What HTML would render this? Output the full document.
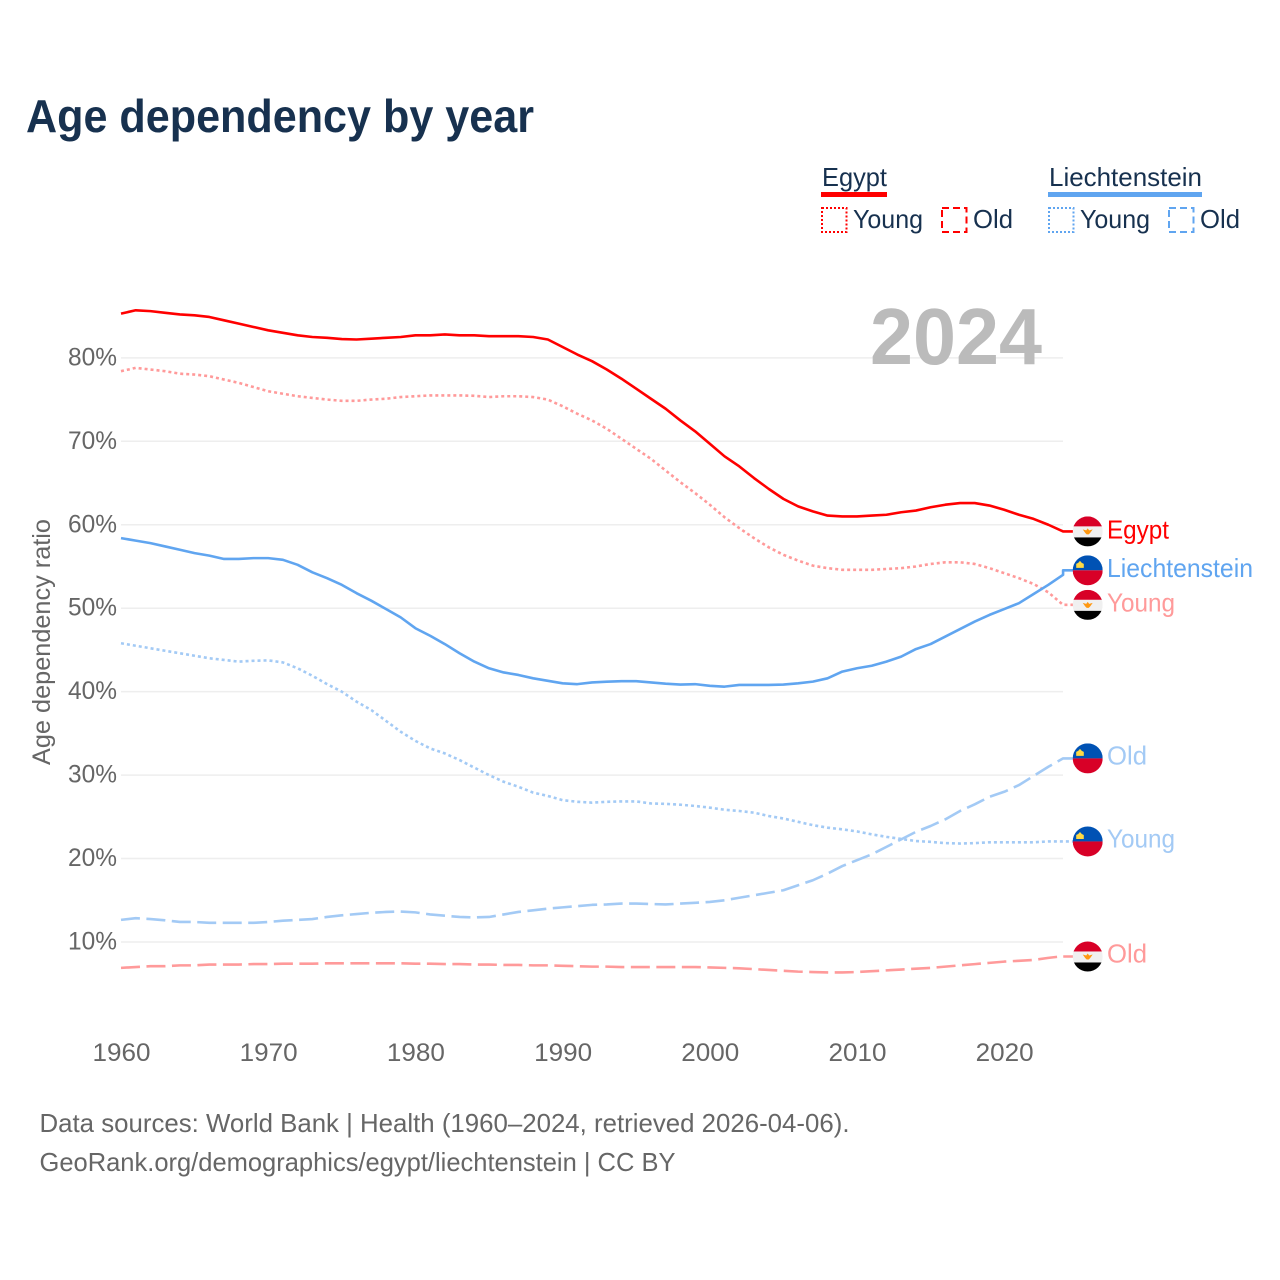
<!DOCTYPE html>
<html lang="en">
<head>
<meta charset="utf-8">
<title>Age dependency by year</title>
<style>
html,body{margin:0;padding:0;background:#fff;}
svg{display:block;font-family:"Liberation Sans",sans-serif;}
</style>
</head>
<body>
<svg id="chart" width="1280" height="1280" viewBox="0 0 1280 1280" xmlns="http://www.w3.org/2000/svg">
  <defs><clipPath id="flag-clip"><circle cx="0" cy="0" r="15"></circle></clipPath></defs>
  <rect x="0" y="0" width="1280" height="1280" fill="#ffffff"></rect>
  <text x="26" y="132" font-size="46" font-weight="700" fill="#17314f" textLength="508" lengthAdjust="spacingAndGlyphs">Age dependency by year</text>

  <g font-size="26" fill="#17314f">
    <text x="822" y="186" textLength="65" lengthAdjust="spacingAndGlyphs">Egypt</text>
    <rect x="821" y="192" width="66" height="5" fill="#ff0000"></rect>
    <rect x="822" y="208" width="24.5" height="24" fill="none" stroke="#ff0000" stroke-width="2" stroke-dasharray="2 2"></rect>
    <text x="853" y="228" textLength="70" lengthAdjust="spacingAndGlyphs">Young</text>
    <rect x="942" y="208" width="24.5" height="24" fill="none" stroke="#ff0000" stroke-width="2" stroke-dasharray="7 4"></rect>
    <text x="973" y="228" textLength="40" lengthAdjust="spacingAndGlyphs">Old</text>
    <text x="1049" y="186" textLength="153" lengthAdjust="spacingAndGlyphs">Liechtenstein</text>
    <rect x="1048" y="192" width="154" height="5" fill="#60a5f0"></rect>
    <rect x="1049" y="208" width="24.5" height="24" fill="none" stroke="#60a5f0" stroke-width="2" stroke-dasharray="2 2"></rect>
    <text x="1080" y="228" textLength="70" lengthAdjust="spacingAndGlyphs">Young</text>
    <rect x="1169" y="208" width="24.5" height="24" fill="none" stroke="#60a5f0" stroke-width="2" stroke-dasharray="7 4"></rect>
    <text x="1200" y="228" textLength="40" lengthAdjust="spacingAndGlyphs">Old</text>
  </g>

  <text transform="translate(50,642) rotate(-90)" text-anchor="middle" font-size="25" fill="#666666" textLength="246" lengthAdjust="spacingAndGlyphs">Age dependency ratio</text>

  <g id="grid"></g>
  <g id="y-ticks"></g>
  <g id="x-ticks"></g>

  <text x="870" y="364" font-size="80" font-weight="700" fill="#bbbbbb" textLength="172" lengthAdjust="spacingAndGlyphs">2024</text>

  <g id="series"></g>
  <g id="end-labels"></g>

  <text x="39.5" y="1132" font-size="26" fill="#666666" textLength="810" lengthAdjust="spacingAndGlyphs">Data sources: World Bank | Health (1960–2024, retrieved 2026-04-06).</text>
  <text x="39.5" y="1171" font-size="26" fill="#666666" textLength="636" lengthAdjust="spacingAndGlyphs">GeoRank.org/demographics/egypt/liechtenstein | CC BY</text>
</svg>

<script>
const firstYear = 1960;
const yTickValues = [10, 20, 30, 40, 50, 60, 70, 80];
const xTickValues = [1960, 1970, 1980, 1990, 2000, 2010, 2020];

const egyptTotal = [85.3,85.7,85.6,85.4,85.2,85.1,84.9,84.5,84.1,83.7,83.3,83.0,82.7,82.5,82.4,82.25,82.2,82.3,82.4,82.5,82.7,82.7,82.8,82.7,82.7,82.6,82.6,82.6,82.5,82.2,81.3,80.4,79.6,78.6,77.5,76.3,75.1,73.9,72.5,71.2,69.7,68.2,67.0,65.6,64.3,63.1,62.2,61.6,61.1,61.0,61.0,61.1,61.2,61.5,61.7,62.1,62.4,62.6,62.6,62.3,61.8,61.2,60.7,60.0,59.2];
const egyptYoung = [78.4,78.8,78.6,78.4,78.1,78.0,77.8,77.4,77.0,76.5,76.0,75.7,75.4,75.2,75.0,74.85,74.85,75.0,75.1,75.3,75.4,75.5,75.5,75.5,75.45,75.3,75.4,75.4,75.3,75.0,74.2,73.3,72.5,71.5,70.3,69.1,67.9,66.5,65.1,63.8,62.4,60.9,59.6,58.4,57.3,56.4,55.7,55.1,54.8,54.6,54.6,54.6,54.7,54.8,55.0,55.3,55.5,55.5,55.3,54.8,54.2,53.6,52.9,51.9,50.4];
const egyptOld = [6.9,7.0,7.1,7.1,7.2,7.2,7.3,7.3,7.3,7.35,7.35,7.4,7.4,7.4,7.45,7.45,7.45,7.45,7.45,7.45,7.4,7.4,7.35,7.35,7.3,7.3,7.25,7.25,7.2,7.2,7.15,7.1,7.05,7.05,7.0,7.0,7.0,7.0,7.0,7.0,6.95,6.9,6.85,6.75,6.65,6.55,6.45,6.4,6.35,6.35,6.4,6.5,6.6,6.7,6.8,6.9,7.05,7.2,7.35,7.5,7.65,7.75,7.85,8.1,8.3];
const liechtensteinTotal = [58.4,58.1,57.8,57.4,57.0,56.6,56.3,55.9,55.9,56.0,56.0,55.8,55.2,54.3,53.6,52.8,51.8,50.9,49.9,48.9,47.6,46.7,45.7,44.6,43.6,42.8,42.3,42.0,41.6,41.3,41.0,40.9,41.1,41.2,41.25,41.25,41.1,40.95,40.85,40.9,40.7,40.6,40.8,40.8,40.8,40.85,41.0,41.2,41.6,42.4,42.8,43.1,43.6,44.2,45.1,45.7,46.6,47.5,48.4,49.2,49.9,50.6,51.7,52.8,54.0];
const liechtensteinYoung = [45.8,45.5,45.2,44.9,44.6,44.3,44.0,43.8,43.6,43.7,43.75,43.5,42.8,41.9,40.9,40.0,38.8,37.8,36.5,35.2,34.1,33.2,32.6,31.8,30.9,30.0,29.2,28.6,27.9,27.5,27.0,26.8,26.7,26.8,26.85,26.85,26.6,26.55,26.45,26.3,26.1,25.85,25.7,25.5,25.1,24.8,24.4,24.0,23.7,23.5,23.25,22.9,22.6,22.35,22.1,22.0,21.85,21.8,21.85,21.95,21.95,21.95,21.95,22.05,22.05];
const liechtensteinOld = [12.65,12.85,12.75,12.6,12.4,12.4,12.3,12.3,12.3,12.3,12.4,12.55,12.65,12.75,13.0,13.2,13.35,13.5,13.6,13.65,13.55,13.3,13.15,13.0,12.95,13.0,13.3,13.6,13.8,14.0,14.15,14.3,14.45,14.5,14.6,14.6,14.55,14.5,14.6,14.7,14.8,15.0,15.3,15.6,15.9,16.2,16.8,17.4,18.2,19.1,19.8,20.5,21.4,22.3,23.2,23.9,24.7,25.7,26.5,27.4,28.0,28.8,29.9,31.0,32.0];

const NS = 'http://www.w3.org/2000/svg';
const xScale = function (year) { return 121 + (year - firstYear) * 14.72; };
const yScale = function (value) { return 1025.45 - value * 8.345; };

function make(parent, tag, attrs, text) {
  const node = document.createElementNS(NS, tag);
  Object.keys(attrs).forEach(function (k) { node.setAttribute(k, attrs[k]); });
  if (text !== undefined) node.textContent = text;
  parent.appendChild(node);
  return node;
}

const gridGroup = document.getElementById('grid');
const yTickGroup = document.getElementById('y-ticks');
yTickValues.forEach(function (v) {
  const line = make(gridGroup, 'line', {x1: 121, x2: 1063, y1: yScale(v), y2: yScale(v), stroke: '#eeeeee', 'stroke-width': 1.5});
  
  
  const label = make(yTickGroup, 'text', {x: 117, y: yScale(v) + 7.5, 'text-anchor': 'end', 'font-size': 25, fill: '#666666', textLength: 49, lengthAdjust: 'spacingAndGlyphs'}, v + '%');
  
  
});

const xTickGroup = document.getElementById('x-ticks');
xTickValues.forEach(function (year) {
  const label = make(xTickGroup, 'text', {x: xScale(year) + 0.5, y: 1061, 'text-anchor': 'middle', 'font-size': 25, fill: '#666666', textLength: 58, lengthAdjust: 'spacingAndGlyphs'}, String(year));
  
  
});

const lineStyles = {solid: null, dotted: '3 3', dashed: '19 6.5'};
const seriesList = [
  {id: 'egypt-old', values: egyptOld, color: '#ff9a9a', dash: 'dashed', flag: 'egypt', label: 'Old', nudge: 0.3, textDy: 6, textWidth: 40},
  {id: 'liechtenstein-old', values: liechtensteinOld, color: '#a3caf5', dash: 'dashed', flag: 'liechtenstein', label: 'Old', nudge: 0, textDy: 6, textWidth: 40},
  {id: 'liechtenstein-young', values: liechtensteinYoung, color: '#a3caf5', dash: 'dotted', flag: 'liechtenstein', label: 'Young', nudge: 0, textDy: 6, textWidth: 68},
  {id: 'egypt-young', values: egyptYoung, color: '#ff9a9a', dash: 'dotted', flag: 'egypt', label: 'Young', nudge: 0, textDy: 6.5, textWidth: 68},
  {id: 'liechtenstein-total', values: liechtensteinTotal, color: '#60a5f0', dash: 'solid', flag: 'liechtenstein', label: 'Liechtenstein', nudge: -4.5, textDy: 6.5, textWidth: 146},
  {id: 'egypt-total', values: egyptTotal, color: '#ff0000', dash: 'solid', flag: 'egypt', label: 'Egypt', nudge: 0, textDy: 7, textWidth: 62}
];

const seriesGroup = document.getElementById('series');
const labelGroup = document.getElementById('end-labels');

function drawFlag(parent, kind, cy) {
  const g = make(parent, 'g', {transform: 'translate(1087.7,' + cy + ')', 'clip-path': 'url(#flag-clip)'});
  
  
  if (kind === 'egypt') {
    make(g, 'rect', {x: -15, y: -15, width: 30, height: 10, fill: '#d80027'});
    make(g, 'rect', {x: -15, y: -5, width: 30, height: 11, fill: '#f0f0f0'});
    make(g, 'rect', {x: -15, y: 6, width: 30, height: 9, fill: '#000000'});
    make(g, 'path', {d: 'M-5 -2 L-1.5 -1 L0 -3 L1.5 -1 L5 -2 L2.5 1.5 L1 3 L-1 3 L-2.5 1.5 Z', fill: '#ff9811'});
  } else {
    make(g, 'rect', {x: -15, y: -15, width: 30, height: 15, fill: '#0052b4'});
    make(g, 'rect', {x: -15, y: 0, width: 30, height: 15, fill: '#d80027'});
    make(g, 'path', {d: 'M-11.5 -2.5 L-11.5 -6.5 L-9.5 -7.5 L-7.7 -9.5 L-5.9 -7.5 L-3.9 -6.5 L-3.9 -2.5 Z', fill: '#ffda44'});
  }
}

seriesList.forEach(function (s) {
  const points = s.values.map(function (v, i) {
    return xScale(firstYear + i).toFixed(2) + ',' + yScale(v).toFixed(2);
  });
  const endX = xScale(firstYear + s.values.length - 1);
  const endY = yScale(s.values[s.values.length - 1]);
  const labelY = endY + s.nudge;
  points.push(endX.toFixed(2) + ',' + labelY.toFixed(2));
  points.push('1073,' + labelY.toFixed(2));

  const line = make(seriesGroup, 'polyline', {
    points: points.join(' '),
    fill: 'none',
    stroke: s.color,
    'stroke-width': 2.6,
    'stroke-linejoin': 'round'
  });
  if (lineStyles[s.dash]) line.setAttribute('stroke-dasharray', lineStyles[s.dash]);
  
  

  drawFlag(labelGroup, s.flag, labelY);

  const label = make(labelGroup, 'text', {
    x: 1107,
    y: labelY + s.textDy,
    'font-size': 26,
    fill: s.color,
    textLength: s.textWidth,
    lengthAdjust: 'spacingAndGlyphs'
  }, s.label);
  
  
});
</script>
</body>
</html>
